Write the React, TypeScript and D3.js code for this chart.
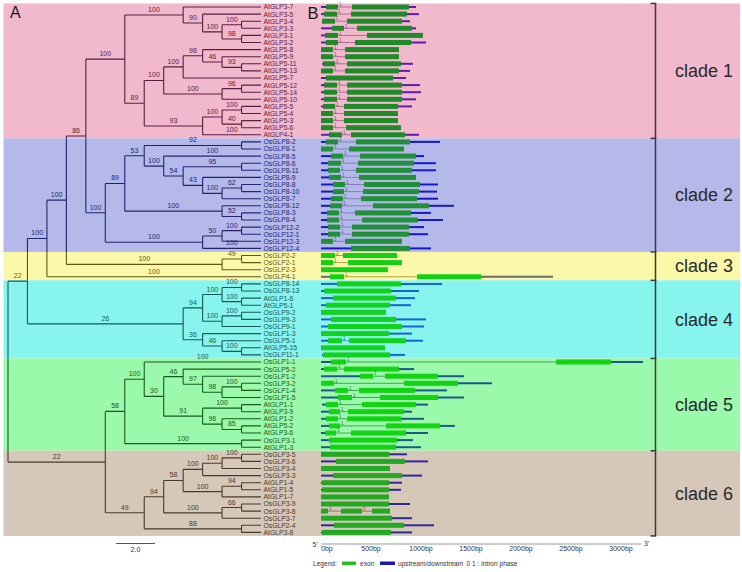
import React from 'react';
import * as d3 from 'd3';

const W = 742, H = 572;

// ---- clade info ----
const cladeNames = ['clade 1', 'clade 2', 'clade 3', 'clade 4', 'clade 5', 'clade 6'];
const cladeSizes = [19, 16, 4, 11, 13, 12];
const bandColors = ['#f2b8cc', '#b4b9ea', '#fbf9a9', '#88f4ee', '#9bf9ab', '#d6c8b8'];
const lineColors = ['#5a1e40', '#222470', '#5e5818', '#145a58', '#185a20', '#4a3828'];
const exonColors = ['#1f8a2a', '#22903a', '#12d012', '#12d21e', '#14d214', '#22a822'];
const utrColors = ['#5a20a8', '#1818c8', '#6a6a6a', '#1466c8', '#1a5a8a', '#2c2a96'];
const intronColors = ['#a8709a', '#8080b8', '#b0a040', '#40a8a8', '#40a850', '#8a7868'];
const phaseColors = ['#904070', '#5050a0', '#807020', '#208080', '#208030', '#6a5848'];

// ---- axis ----
const axisTicks = [0, 500, 1000, 1500, 2000, 2500, 3000];
const axisLabels = ['0bp', '500bp', '1000bp', '1500bp', '2000bp', '2500bp', '3000bp'];
const scaleBarUnits = 2.0;

// ---- tree (d = node depth in tree units, b = bootstrap on incoming branch) ----
type TN = { n?: string; d?: number; b?: string; c?: TN[] };
const L = (n: string, b?: string): TN => ({ n, b });
const N = (d: number, b: string, ...c: TN[]): TN => ({ d, b, c });
const LEAF_DEPTH = 13;

const tree: TN = {
  d: 0, c: [
    N(1, '22',
      N(2, '100',
        N(3, '100',
          N(4, '86',
            N(6, '100',
              N(9, '100', L('AtGLP3-7'),
                N(10, '90', L('AtGLP3-5'),
                  N(11, '100',
                    N(12, '100', L('AtGLP3-4'), L('AtGLP3-3')),
                    N(12, '98', L('AtGLP3-1'), L('AtGLP3-2'))))),
              N(7, '89',
                N(8, '100',
                  N(9, '100',
                    N(10, '98', L('AtGLP5-8'),
                      N(11, '46', L('AtGLP5-9'),
                        N(12, '93', L('AtGLP5-11'), L('AtGLP5-13')))),
                    L('AtGLP5-7')),
                  N(11, '100',
                    N(12, '96', L('AtGLP5-12'), L('AtGLP5-14')),
                    L('AtGLP5-10'))),
                N(10, '93',
                  N(11, '100',
                    N(12, '100', L('AtGLP5-5'), L('AtGLP5-4')),
                    N(12, '40', L('AtGLP5-3'), L('AtGLP5-6'))),
                  L('AtGLP4-1', '100')))),
            N(5, '100',
              N(6, '89',
                N(7, '53',
                  N(12, '92', L('OsGLP8-2'), L('OsGLP8-1')),
                  N(8, '100', L('OsGLP8-5', '100'),
                    N(9, '54',
                      N(12, '95', L('OsGLP8-6'), L('OsGLP8-11')),
                      N(10, '43', L('OsGLP8-9'),
                        N(11, '100',
                          N(12, '62', L('OsGLP8-8'), L('OsGLP8-10')),
                          L('OsGLP8-7')))))),
                N(11, '100', L('OsGLP8-12'),
                  N(12, '52', L('OsGLP8-3'), L('OsGLP8-4')))),
              N(10, '100',
                N(11, '50',
                  N(12, '100', L('OsGLP12-2'), L('OsGLP12-1')),
                  L('OsGLP12-3')),
                L('OsGLP12-4', '100')))),
          N(11, '100',
            N(12, '49', L('OsGLP2-2'), L('OsGLP2-1')),
            L('OsGLP2-3'))),
        L('OsGLP4-1', '100')),
      N(9, '26',
        N(10, '94',
          N(11, '100',
            N(12, '100', L('OsGLP8-14'), L('OsGLP8-13')),
            N(12, '100', L('AtGLP1-6'), L('AtGLP5-1'))),
          N(11, '100',
            N(12, '100', L('OsGLP9-2'), L('OsGLP9-3')),
            L('OsGLP9-1'))),
        N(10, '36', L('OsGLP1-3'),
          N(11, '46', L('OsGLP5-1'),
            N(12, '100', L('AtGLP5-15'), L('OsGLP11-1')))))),
    N(5, '22',
      N(6, '58',
        N(7, '100', L('OsGLP1-1', '100'),
          N(8, '30',
            N(9, '46', L('OsGLP5-2'),
              N(10, '97', L('OsGLP1-2'),
                N(11, '98',
                  N(12, '100', L('OsGLP3-2'), L('OsGLP1-4')),
                  L('OsGLP1-5')))),
            N(10, '91',
              N(12, '100', L('AtGLP1-1'), L('AtGLP3-9')),
              N(11, '96', L('AtGLP1-2'),
                N(12, '85', L('AtGLP5-2'), L('AtGLP3-6')))))),
        N(12, '100', L('OsGLP3-1'), L('AtGLP1-3'))),
      N(7, '49',
        N(8, '94',
          N(9, '58',
            N(10, '100',
              N(11, '100',
                N(12, '100', L('OsGLP3-5'), L('OsGLP3-6')),
                L('OsGLP3-4')),
              L('OsGLP3-3')),
            N(11, '100',
              N(12, '94', L('AtGLP1-4'), L('AtGLP1-5')),
              L('AtGLP1-7'))),
          N(11, '100',
            N(12, '66', L('OsGLP3-9'), L('OsGLP3-8')),
            L('OsGLP3-7'))),
        N(12, '88', L('OsGLP2-4'), L('AtGLP3-8')))),
  ],
};

// ---- gene structures: [start, end, exons, intron phases] in bp ----
type Gene = [number, number, number[][], string[]?];
const genes: Record<string, Gene> = {
  'AtGLP3-7': [0, 950, [[50, 170], [310, 880]]],
  'AtGLP3-5': [0, 980, [[30, 160], [300, 860]]],
  'AtGLP3-4': [10, 890, [[10, 140], [260, 810]]],
  'AtGLP3-3': [0, 950, [[110, 230], [360, 910]]],
  'AtGLP3-1': [0, 1020, [[40, 170], [460, 1020]]],
  'AtGLP3-2': [0, 1050, [[50, 170], [340, 900]]],
  'AtGLP5-8': [0, 780, [[0, 120], [240, 780]]],
  'AtGLP5-9': [0, 780, [[0, 120], [240, 780]]],
  'AtGLP5-11': [10, 920, [[20, 140], [260, 800]]],
  'AtGLP5-13': [0, 890, [[0, 120], [240, 780]]],
  'AtGLP5-7': [0, 850, [[50, 720]]],
  'AtGLP5-12': [0, 990, [[30, 160], [260, 810]]],
  'AtGLP5-14': [0, 1000, [[30, 160], [260, 810]]],
  'AtGLP5-10': [0, 950, [[30, 160], [260, 810]]],
  'AtGLP5-5': [0, 910, [[20, 140], [230, 770]]],
  'AtGLP5-4': [0, 770, [[0, 120], [230, 770]]],
  'AtGLP5-3': [0, 770, [[0, 120], [230, 770]]],
  'AtGLP5-6': [0, 800, [[0, 120], [250, 800]]],
  'AtGLP4-1': [0, 980, [[80, 210], [300, 840]]],
  'OsGLP8-2': [0, 1190, [[50, 170], [350, 890]]],
  'OsGLP8-1': [0, 830, [[0, 120], [280, 830]]],
  'OsGLP8-5': [0, 1030, [[100, 220], [390, 950]]],
  'OsGLP8-6': [0, 1150, [[70, 200], [370, 930]]],
  'OsGLP8-11': [0, 1150, [[70, 190], [350, 910]]],
  'OsGLP8-9': [0, 950, [[80, 200], [380, 950]]],
  'OsGLP8-8': [0, 1170, [[120, 240], [430, 990]]],
  'OsGLP8-10': [0, 1160, [[120, 230], [420, 980]]],
  'OsGLP8-7': [0, 1170, [[100, 220], [400, 960]]],
  'OsGLP8-12': [0, 1330, [[90, 210], [520, 1080]]],
  'OsGLP8-3': [0, 1100, [[60, 180], [340, 900]]],
  'OsGLP8-4': [0, 1220, [[60, 180], [410, 970]]],
  'OsGLP12-2': [0, 1030, [[70, 190], [310, 880]]],
  'OsGLP12-1': [0, 1070, [[70, 190], [310, 880]]],
  'OsGLP12-3': [0, 810, [[0, 120], [240, 810]]],
  'OsGLP12-4': [0, 1100, [[300, 890]]],
  'OsGLP2-2': [0, 760, [[0, 140], [220, 760]]],
  'OsGLP2-1': [0, 810, [[0, 120], [270, 810]]],
  'OsGLP2-3': [0, 670, [[0, 670]]],
  'OsGLP4-1': [0, 2320, [[90, 230], [960, 1600]]],
  'OsGLP8-14': [0, 1210, [[160, 800]]],
  'OsGLP8-13': [0, 980, [[30, 700]]],
  'AtGLP1-6': [0, 940, [[120, 750]]],
  'AtGLP5-1': [0, 900, [[50, 690]]],
  'OsGLP9-2': [0, 650, [[0, 650]]],
  'OsGLP9-3': [0, 1050, [[100, 750]]],
  'OsGLP9-1': [0, 1030, [[70, 810]]],
  'OsGLP1-3': [0, 910, [[0, 680]]],
  'OsGLP5-1': [0, 1020, [[70, 210], [280, 850]]],
  'AtGLP5-15': [0, 640, [[0, 640]]],
  'OsGLP11-1': [10, 840, [[20, 690]]],
  'OsGLP1-1': [0, 3220, [[100, 250], [2350, 2900]]],
  'OsGLP5-2': [0, 930, [[30, 160], [230, 780]]],
  'OsGLP1-2': [0, 1430, [[390, 520], [640, 1170]]],
  'OsGLP3-2': [0, 1710, [[0, 130], [830, 1370]]],
  'OsGLP1-4': [0, 1260, [[140, 270], [380, 940]]],
  'OsGLP1-5': [0, 1430, [[170, 310], [590, 1170]]],
  'AtGLP1-1': [10, 1070, [[50, 170], [410, 950]]],
  'AtGLP3-9': [0, 910, [[80, 190], [270, 830]]],
  'AtGLP1-2': [0, 1030, [[50, 170], [260, 800]]],
  'AtGLP5-2': [0, 1340, [[80, 190], [650, 1190]]],
  'AtGLP3-6': [0, 1070, [[40, 150], [300, 850]]],
  'OsGLP3-1': [0, 920, [[80, 760]]],
  'AtGLP1-3': [0, 1000, [[90, 750]]],
  'OsGLP3-5': [0, 860, [[0, 680]]],
  'OsGLP3-6': [0, 1070, [[150, 840]]],
  'OsGLP3-4': [0, 690, [[0, 690]]],
  'OsGLP3-3': [0, 1010, [[120, 810]]],
  'AtGLP1-4': [0, 810, [[10, 680]]],
  'AtGLP1-5': [0, 800, [[10, 680]]],
  'AtGLP1-7': [0, 680, [[0, 680]]],
  'OsGLP3-9': [0, 890, [[0, 680]]],
  'OsGLP3-8': [0, 690, [[0, 70], [200, 410], [510, 690]], ['1', '0']],
  'OsGLP3-7': [0, 910, [[0, 710]]],
  'OsGLP2-4': [0, 1130, [[130, 830]]],
  'AtGLP3-8': [0, 910, [[10, 700]]],
};

const FONT = 'Liberation Sans, Arial, Helvetica, sans-serif';

export default function App() {
  const root = d3.hierarchy<TN>(tree, (d) => d.c);
  const leaves = root.leaves();
  const nLeaves = leaves.length;
  const y = d3.scaleLinear().domain([0, nLeaves - 1]).range([7, 532.4]);
  const xt = d3.scaleLinear().domain([0, LEAF_DEPTH]).range([8, 261]);
  const xg = d3.scaleLinear().domain([0, 3200]).range([321, 641]);
  const half = (y(1) - y(0)) / 2;

  const pos = new Map<any, { x: number; y: number }>();
  leaves.forEach((l, i) => pos.set(l, { x: xt(LEAF_DEPTH), y: y(i) }));
  root.eachAfter((n) => {
    if (n.children) {
      const ys = n.children.map((c) => pos.get(c)!.y);
      pos.set(n, { x: xt(n.data.d!), y: (ys[0] + ys[ys.length - 1]) / 2 });
    }
  });

  const starts: number[] = [];
  let acc = 0;
  cladeSizes.forEach((s) => { starts.push(acc); acc += s; });
  const bands = cladeSizes.map((s, i) => ({
    top: y(starts[i]) - half,
    bottom: y(starts[i] + s - 1) + half,
  }));
  const bandOf = (yy: number) => {
    for (let i = 0; i < bands.length; i++) if (yy <= bands[i].bottom) return i;
    return bands.length - 1;
  };
  const cladeOfLeaf = (i: number) => {
    for (let k = cladeSizes.length - 1; k >= 0; k--) if (i >= starts[k]) return k;
    return 0;
  };

  const path = d3.path();
  root.each((n) => {
    const p = pos.get(n)!;
    if (n.parent) {
      const pp = pos.get(n.parent)!;
      path.moveTo(pp.x, p.y);
      path.lineTo(p.x, p.y);
    }
    if (n.children) {
      const a = pos.get(n.children[0])!;
      const b = pos.get(n.children[n.children.length - 1])!;
      path.moveTo(p.x, a.y);
      path.lineTo(p.x, b.y);
    }
  });
  const treeD = path.toString();

  const bootLabels: { x: number; y: number; t: string }[] = [];
  root.each((n) => {
    if (n.parent && n.data.b) {
      const p = pos.get(n)!;
      const pp = pos.get(n.parent)!;
      bootLabels.push({ x: (pp.x + p.x) / 2, y: p.y - 3, t: n.data.b });
    }
  });

  const bandX0 = 3.5, bandX1 = 740;
  const bracketX = 655.5;

  return (
    <svg width={W} height={H} style={{ position: 'absolute', left: 0, top: 0, background: '#fff' }}
      fontFamily={FONT}>
      <defs>
        {bands.map((b, i) => (
          <clipPath id={`band-${i}`} key={i}>
            <rect x={0} y={b.top} width={W} height={b.bottom - b.top} />
          </clipPath>
        ))}
      </defs>
      <rect x={0} y={0} width={W} height={H} fill="#fff" />
      {bands.map((b, i) => (
        <rect key={i} x={bandX0} y={b.top} width={bandX1 - bandX0} height={b.bottom - b.top} fill={bandColors[i]} />
      ))}

      {bands.map((b, i) => (
        <path key={i} d={treeD} fill="none" stroke={lineColors[i]} strokeWidth={1.1} clipPath={`url(#band-${i})`} />
      ))}

      {bootLabels.map((l, i) => (
        <text key={i} x={l.x} y={l.y} fontSize={7} textAnchor="middle" fill={lineColors[bandOf(l.y - 2)]}>{l.t}</text>
      ))}

      {leaves.map((l, i) => (
        <text key={i} x={xt(LEAF_DEPTH) + 2.5} y={y(i) + 2.4} fontSize={6.8} fill={lineColors[cladeOfLeaf(i)]}>{l.data.n}</text>
      ))}

      {leaves.map((l, i) => {
        const g = genes[l.data.n!];
        if (!g) return null;
        const [s, e, ex, ph] = g;
        const k = cladeOfLeaf(i);
        const yy = y(i);
        const els: React.ReactNode[] = [];
        if (s < ex[0][0]) els.push(<line key="u5" x1={xg(s)} x2={xg(ex[0][0])} y1={yy} y2={yy} stroke={utrColors[k]} strokeWidth={2} />);
        const last = ex[ex.length - 1][1];
        if (e > last) els.push(<line key="u3" x1={xg(last)} x2={xg(e)} y1={yy} y2={yy} stroke={utrColors[k]} strokeWidth={2} />);
        for (let j = 0; j < ex.length - 1; j++) {
          els.push(<line key={`i${j}`} x1={xg(ex[j][1])} x2={xg(ex[j + 1][0])} y1={yy} y2={yy} stroke={intronColors[k]} strokeWidth={1} />);
          els.push(<text key={`p${j}`} x={xg(ex[j][1]) + 1} y={yy - 0.8} fontSize={4.5} fill={phaseColors[k]}>{ph ? ph[j] : '1'}</text>);
        }
        ex.forEach((x, j) => {
          els.push(<rect key={`e${j}`} x={xg(x[0])} y={yy - 2.5} width={xg(x[1]) - xg(x[0])} height={5} fill={exonColors[k]} />);
        });
        return <g key={i}>{els}</g>;
      })}

      <line x1={bracketX} x2={bracketX} y1={bands[0].top} y2={bands[bands.length - 1].bottom} stroke="#3a3a3a" strokeWidth={1.5} />
      {[bands[0].top, ...bands.map((b) => b.bottom)].map((yy, i) => (
        <line key={i} x1={bracketX - 5} x2={bracketX + 0.75} y1={yy} y2={yy} stroke="#3a3a3a" strokeWidth={1.5} />
      ))}
      {bands.map((b, i) => (
        <text key={i} x={704} y={(b.top + b.bottom) / 2} dy="0.35em" fontSize={18} textAnchor="middle" fill="#2a2a2a">{cladeNames[i]}</text>
      ))}

      <text x={10} y={18.3} fontSize={16} fill="#1a1a1a">A</text>
      <text x={307.5} y={19} fontSize={16.5} fill="#1a1a1a">B</text>

      <line x1={116} x2={116 + xt(scaleBarUnits) - xt(0)} y1={543.5} y2={543.5} stroke="#555" strokeWidth={1} />
      <text x={116 + (xt(scaleBarUnits) - xt(0)) / 2} y={552} fontSize={7} textAnchor="middle" fill="#333">{scaleBarUnits.toFixed(1)}</text>

      <line x1={xg(0)} x2={xg(3200)} y1={544} y2={544} stroke="#999" strokeWidth={1} />
      {axisTicks.map((t, i) => (
        <text key={i} x={xg(t)} y={551} fontSize={7} textAnchor={i === 0 ? 'start' : 'middle'} fill="#333">{axisLabels[i]}</text>
      ))}
      <text x={312.5} y={547} fontSize={7} fill="#333">5'</text>
      <text x={644} y={546} fontSize={7} fill="#333">3'</text>

      <text x={313} y={565.5} fontSize={6.6} fill="#333">Legend:</text>
      <rect x={342} y={561.5} width={14} height={3.5} fill="#22c022" />
      <text x={360} y={565.5} fontSize={6.6} fill="#333">exon</text>
      <rect x={380} y={561.5} width={15} height={3.5} fill="#1a1aa8" />
      <text x={398} y={565.5} fontSize={6.6} fill="#333">upstream/downstream</text>
      <text x={466.5} y={565.5} fontSize={6.6} fill="#333">0 1 : intron phase</text>
    </svg>
  );
}
